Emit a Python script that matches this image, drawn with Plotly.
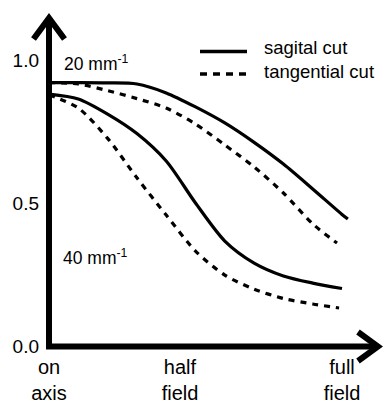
import plotly.graph_objects as go

# ---- data ----
field = [0, 0.1, 0.2, 0.3, 0.4, 0.5, 0.6, 0.7, 0.8, 0.9, 1.0]

mtf20_sag_x = field + [1.02]
mtf20_sag = [0.921, 0.921, 0.92, 0.916, 0.885, 0.836, 0.78, 0.712, 0.636, 0.549, 0.46, 0.444]

mtf20_tan_x = field[:-1] + [0.983]
mtf20_tan = [0.921, 0.916, 0.893, 0.865, 0.832, 0.776, 0.703, 0.626, 0.535, 0.427, 0.36]

mtf40_sag_x = field
mtf40_sag = [0.881, 0.864, 0.811, 0.743, 0.647, 0.5, 0.367, 0.29, 0.245, 0.22, 0.201]

mtf40_tan_x = field[:-1] + [0.99]
mtf40_tan = [0.878, 0.832, 0.726, 0.588, 0.458, 0.332, 0.248, 0.199, 0.166, 0.147, 0.133]

y_tick_vals = [0, 0.5, 1.0]
y_tick_text = ["0.0", "0.5", "1.0"]
x_tick_vals = [0, 0.447, 1.0]
x_tick_text = ["on<br>axis", "half<br>field", "full<br>field"]

series_names = ["sagital cut", "tangential cut"]
freq_labels = ["20 mm<sup>-1</sup>", "40 mm<sup>-1</sup>"]

# ---- layout geometry (pixels) ----
WIDTH, HEIGHT = 383, 400
ML, MR, MT, MB = 49, 0, 0, 54
PW, PH = WIDTH - ML - MR, HEIGHT - MT - MB
X_SCALE = 293.0   # px per unit field
Y_SCALE = 286.0   # px per unit MTF


def px(x):
    return (x - ML) / PW


def py(y):
    return (MT + PH - y) / PH


FONT = "Liberation Sans, Arial, sans-serif"
fig = go.Figure()

line_common = dict(color="black", width=3.2, shape="spline", smoothing=0.8)
fig.add_trace(go.Scatter(x=mtf20_sag_x, y=mtf20_sag, mode="lines", name=series_names[0],
                         line=dict(**line_common), showlegend=False))
fig.add_trace(go.Scatter(x=mtf20_tan_x, y=mtf20_tan, mode="lines", name=series_names[1],
                         line=dict(**line_common, dash="6px,6px"), showlegend=False))
fig.add_trace(go.Scatter(x=mtf40_sag_x, y=mtf40_sag, mode="lines", name=series_names[0],
                         line=dict(**line_common), showlegend=False))
fig.add_trace(go.Scatter(x=mtf40_tan_x, y=mtf40_tan, mode="lines", name=series_names[1],
                         line=dict(**line_common, dash="6px,6px"), showlegend=False))

shapes = []
# axes with arrows
axis_path = "M {} {} L {} {} L {} {}".format(px(49), py(18), px(49), py(346.5), px(378), py(346.5))
shapes.append(dict(type="path", xref="paper", yref="paper", path=axis_path,
                   line=dict(color="black", width=6)))
yarrow = "M {} {} L {} {} L {} {}".format(px(33.5), py(39), px(49), py(18), px(64.5), py(39))
shapes.append(dict(type="path", xref="paper", yref="paper", path=yarrow,
                   line=dict(color="black", width=6)))
xarrow = "M {} {} L {} {} L {} {}".format(px(358), py(332), px(378), py(346.5), px(358), py(361))
shapes.append(dict(type="path", xref="paper", yref="paper", path=xarrow,
                   line=dict(color="black", width=6)))
# legend samples
shapes.append(dict(type="line", xref="paper", yref="paper", x0=px(200), x1=px(247),
                   y0=py(51.5), y1=py(51.5), line=dict(color="black", width=3.5)))
shapes.append(dict(type="line", xref="paper", yref="paper", x0=px(200), x1=px(247),
                   y0=py(74), y1=py(74), line=dict(color="black", width=3.5, dash="7px,6px")))

annotations = [
    dict(x=px(262), y=py(47), xref="paper", yref="paper", text=series_names[0],
         showarrow=False, xanchor="left", yanchor="middle",
         font=dict(family=FONT, size=18.5, color="black")),
    dict(x=px(262), y=py(71), xref="paper", yref="paper", text=series_names[1],
         showarrow=False, xanchor="left", yanchor="middle",
         font=dict(family=FONT, size=18.5, color="black")),
    dict(x=px(62), y=py(63), xref="paper", yref="paper", text=freq_labels[0],
         showarrow=False, xanchor="left", yanchor="middle",
         font=dict(family=FONT, size=17.5, color="black")),
    dict(x=px(61), y=py(257), xref="paper", yref="paper", text=freq_labels[1],
         showarrow=False, xanchor="left", yanchor="middle",
         font=dict(family=FONT, size=17.5, color="black")),
]

fig.update_layout(
    width=WIDTH, height=HEIGHT,
    margin=dict(l=ML, r=MR, t=MT, b=MB, pad=0, autoexpand=False),
    paper_bgcolor="white", plot_bgcolor="white",
    shapes=shapes, annotations=annotations,
    xaxis=dict(range=[0, PW / X_SCALE], showgrid=False, zeroline=False, showline=False,
               ticks="outside", ticklen=3, tickcolor="rgba(0,0,0,0)", automargin=False,
               tickvals=x_tick_vals, ticktext=x_tick_text,
               tickfont=dict(family=FONT, size=20, color="black"), fixedrange=True),
    yaxis=dict(range=[0, PH / Y_SCALE], showgrid=False, zeroline=False, showline=False,
               ticks="", tickvals=y_tick_vals, ticktext=y_tick_text, ticklabelstandoff=9,
               automargin=False,
               tickfont=dict(family=FONT, size=19, color="black"), fixedrange=True),
    showlegend=False,
)

fig.write_html("out.html", config=dict(displayModeBar=False))
